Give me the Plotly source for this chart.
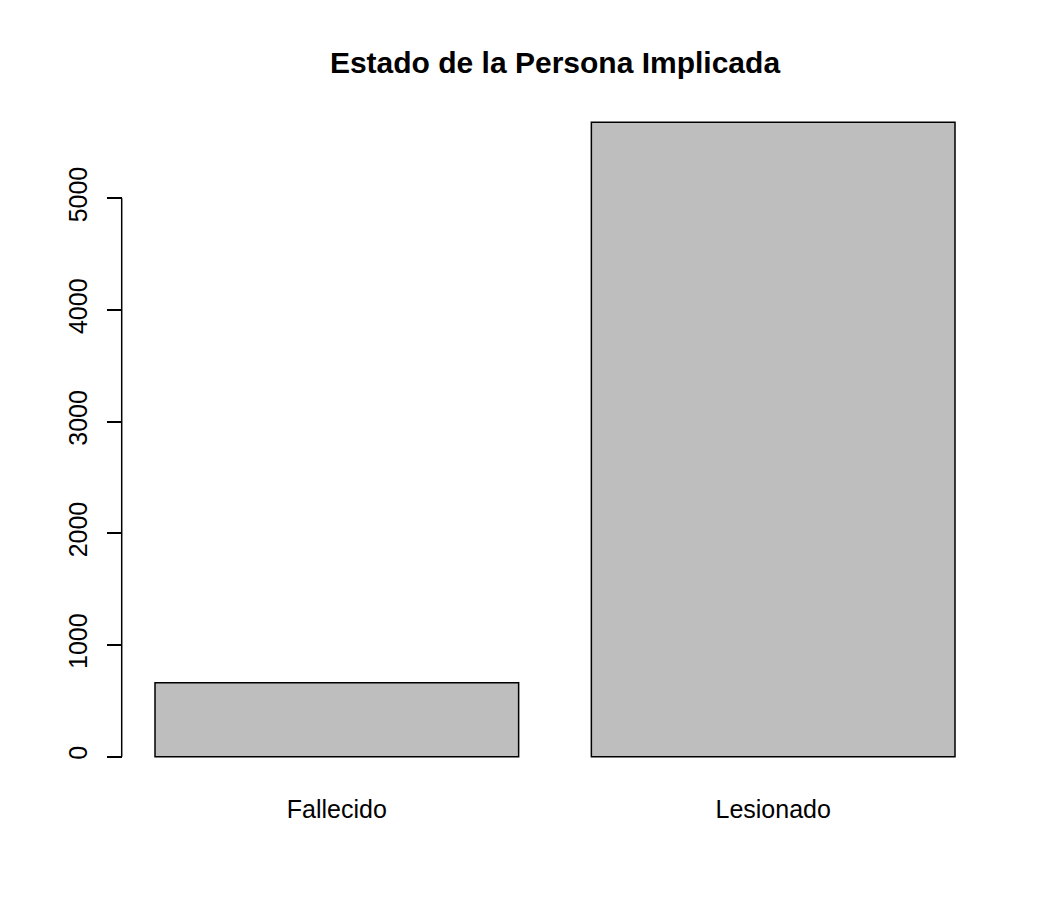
import plotly.graph_objects as go

categories = ["Fallecido", "Lesionado"]
counts = [662, 5680]
bar_pos = [0.7, 1.9]          # R barplot centres (width 1, space 0.2)
y_ticks = [0, 1000, 2000, 3000, 4000, 5000]

FONT = "Liberation Sans, Arial, Helvetica, sans-serif"

fig = go.Figure(go.Bar(
    x=bar_pos,
    y=counts,
    width=1.0,
    marker=dict(color="#bebebe", line=dict(color="black", width=1.5)),
    hoverinfo="x+y",
))

ymax = max(counts)
pad = 0.04 * ymax

fig.update_xaxes(
    range=[0.112, 2.488],
    tickmode="array",
    tickvals=bar_pos,
    ticktext=categories,
    showline=False,
    showgrid=False,
    zeroline=False,
    ticks="",
    ticklabelstandoff=10,
    tickfont=dict(size=25, color="black", family=FONT),
)
fig.update_yaxes(
    range=[-pad, ymax + pad],
    tickmode="array",
    tickvals=y_ticks,
    ticktext=[str(v) for v in y_ticks],
    tickangle=-90,
    showline=False,
    showgrid=False,
    zeroline=False,
    ticks="outside",
    ticklen=15,
    tickwidth=1.5,
    tickcolor="black",
    ticklabelstandoff=10,
    tickfont=dict(size=25, color="black", family=FONT),
)

# R draws the axis line only between the first and last tick
fig.add_shape(type="line", xref="paper", yref="y",
              x0=-0.0015, x1=-0.0015, y0=y_ticks[0], y1=y_ticks[-1],
              line=dict(color="black", width=1.5))

# the page body adds an 8px offset, so margins are shifted to compensate
fig.update_layout(
    width=1050,
    height=917,
    plot_bgcolor="white",
    paper_bgcolor="white",
    margin=dict(l=115, r=71, t=89, b=143),
    showlegend=False,
    title=dict(
        text="<b>Estado de la Persona Implicada</b>",
        x=547 / 1050,
        xanchor="center",
        xref="container",
        y=1 - 54 / 917,
        yanchor="middle",
        font=dict(size=30, color="black", family=FONT),
    ),
)

fig.write_html("out.html")
